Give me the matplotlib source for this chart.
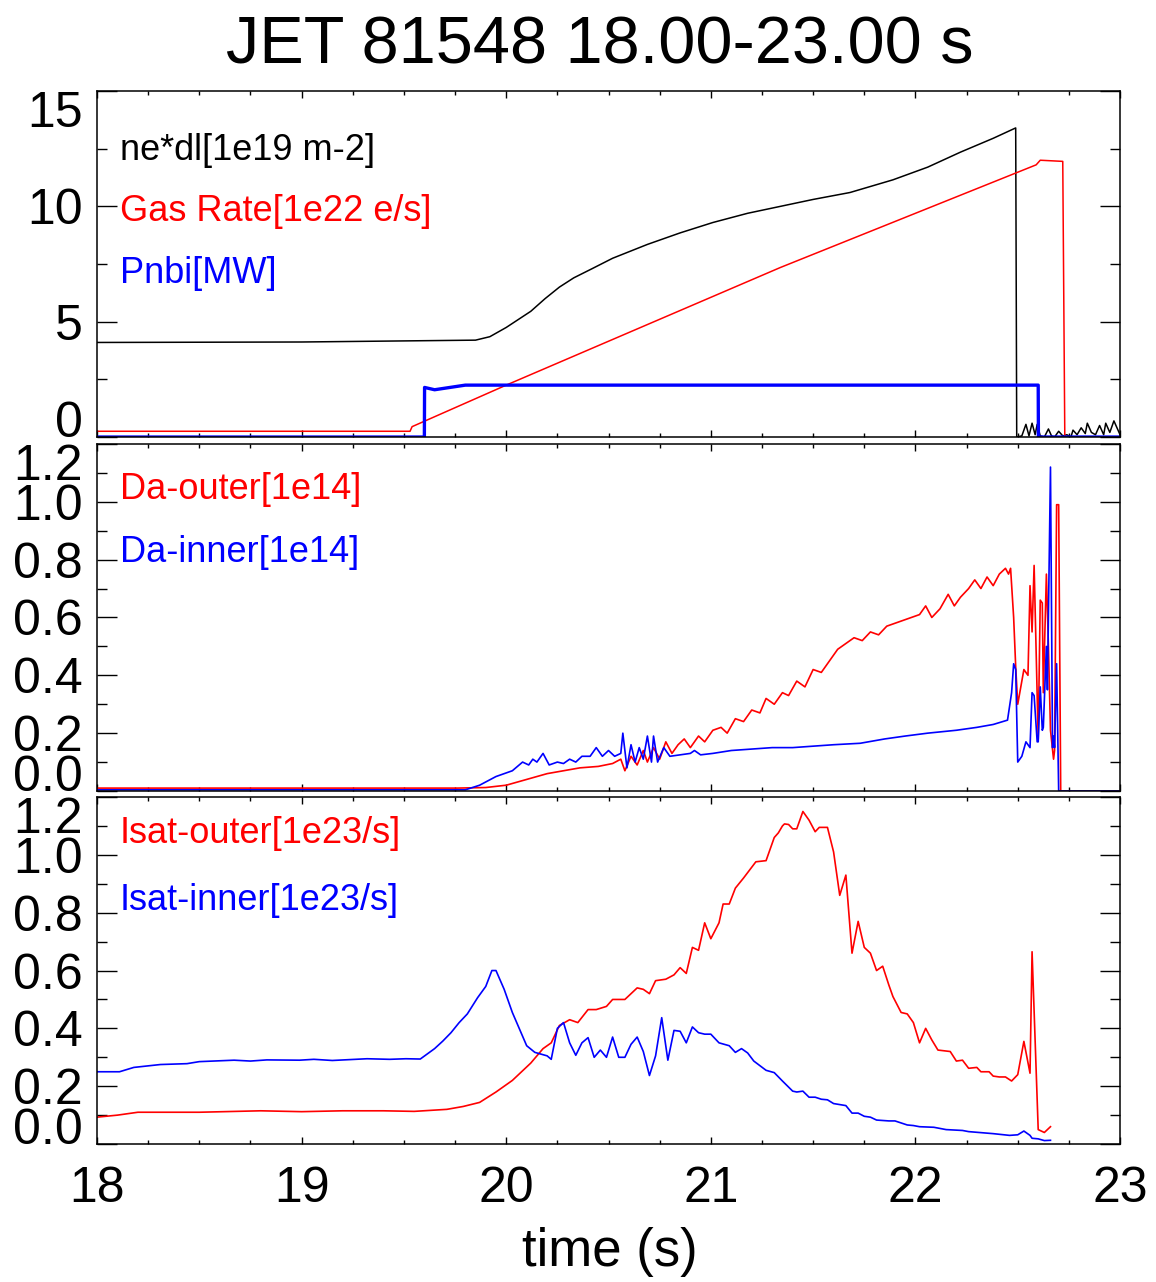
import matplotlib
matplotlib.use("Agg")
import matplotlib.pyplot as plt
from matplotlib.ticker import MultipleLocator
from matplotlib.transforms import ScaledTranslation

plt.rcParams['font.family'] = ['Liberation Sans', 'DejaVu Sans']

# ---- panel 1: density, gas, NBI ----
ne_t = [18.0, 19.0, 19.85, 19.92, 20.0, 20.06, 20.12, 20.19, 20.26, 20.33, 20.42, 20.52,
        20.69, 20.85, 21.01, 21.18, 21.34, 21.5, 21.68, 21.89, 22.06, 22.22, 22.38, 22.49,
        22.495, 22.52, 22.54, 22.555, 22.57, 22.585, 22.595, 22.61, 22.63, 22.65, 22.665,
        22.68, 22.70, 22.72, 22.74, 22.76, 22.77, 22.79, 22.81, 22.83, 22.84, 22.86,
        22.88, 22.90, 22.92, 22.93, 22.95, 22.97, 22.99, 23.0]
ne_v = [4.1, 4.12, 4.2, 4.35, 4.75, 5.1, 5.45, 6.0, 6.5, 6.9, 7.3, 7.75,
        8.35, 8.85, 9.3, 9.7, 10.0, 10.3, 10.6, 11.15, 11.7, 12.35, 12.95, 13.4,
        0.0, 0.05, 0.55, 0.05, 0.6, 0.1, 0.55, 0.05, 0.0, 0.35, 0.05,
        0.0, 0.25, 0.05, 0.1, 0.0, 0.3, 0.1, 0.4, 0.15, 0.6, 0.2,
        0.1, 0.5, 0.1, 0.6, 0.2, 0.7, 0.3, 0.1]

gas_t = [18.0, 19.53, 19.54, 20.0, 21.34, 22.59, 22.61, 22.72, 22.73, 23.0]
gas_v = [0.25, 0.25, 0.45, 2.25, 7.35, 11.8, 12.0, 11.95, 0.0, 0.0]

nbi_t = [18.0, 19.6, 19.601, 19.65, 19.8, 22.6, 22.601, 23.0]
nbi_v = [0.0, 0.0, 2.15, 2.05, 2.25, 2.25, 0.0, 0.0]

# ---- panel 2: D-alpha ----
dao_t = [18.0, 19.76, 19.9, 20.0, 20.1, 20.2, 20.36, 20.45, 20.52, 20.56, 20.58, 20.61,
         20.64, 20.67, 20.69, 20.72, 20.75, 20.78, 20.81, 20.84, 20.87, 20.9, 20.94,
         20.97, 21.01, 21.05, 21.08, 21.12, 21.16, 21.2, 21.24, 21.27, 21.31, 21.35,
         21.38, 21.42, 21.46, 21.5, 21.54, 21.58, 21.62, 21.66, 21.7, 21.74, 21.78,
         21.82, 21.86, 21.9, 21.94, 21.98, 22.02, 22.05, 22.08, 22.12, 22.16, 22.19,
         22.22, 22.26, 22.29, 22.32, 22.35, 22.38, 22.41, 22.44, 22.455, 22.465, 22.48,
         22.49, 22.50, 22.53, 22.55, 22.56, 22.57, 22.58, 22.60, 22.61, 22.62, 22.625,
         22.64, 22.65, 22.66, 22.675, 22.68, 22.69, 22.70, 22.71, 23.0]
dao_v = [0.01, 0.01, 0.012, 0.02, 0.04, 0.06, 0.08, 0.085, 0.095, 0.11, 0.07, 0.12,
         0.09, 0.14, 0.10, 0.15, 0.11, 0.17, 0.13, 0.16, 0.18, 0.15, 0.19,
         0.17, 0.21, 0.22, 0.20, 0.25, 0.24, 0.28, 0.27, 0.32, 0.30, 0.34,
         0.33, 0.38, 0.36, 0.42, 0.41, 0.45, 0.49, 0.51, 0.53, 0.52, 0.55,
         0.54, 0.57, 0.58, 0.59, 0.60, 0.61, 0.64, 0.60, 0.63, 0.68, 0.64,
         0.67, 0.70, 0.73, 0.70, 0.74, 0.71, 0.75, 0.77, 0.75, 0.77, 0.60,
         0.43, 0.30, 0.42, 0.40, 0.71, 0.55, 0.78, 0.18, 0.66, 0.65, 0.34,
         0.75, 0.50, 0.21, 0.11, 0.14, 0.99, 0.99, 0.0, 0.0]

dai_t = [18.0, 19.8, 19.87, 19.95, 20.03, 20.08, 20.11, 20.13, 20.15, 20.18, 20.21,
         20.25, 20.28, 20.31, 20.34, 20.37, 20.41, 20.44, 20.47, 20.5, 20.53, 20.56,
         20.57, 20.59, 20.61, 20.63, 20.65, 20.67, 20.69, 20.71, 20.72, 20.74, 20.77,
         20.8, 20.85, 20.9, 20.92, 20.95, 21.01, 21.1, 21.2, 21.3, 21.4, 21.5, 21.6,
         21.73, 21.85, 21.95, 22.06, 22.2, 22.3, 22.38, 22.45, 22.47, 22.48, 22.49,
         22.50, 22.52, 22.54, 22.55, 22.56, 22.57, 22.58, 22.595, 22.6, 22.61, 22.62,
         22.625, 22.64, 22.645, 22.66, 22.67, 22.675, 22.68, 22.69, 22.70, 23.0]
dai_v = [0.004, 0.004, 0.02, 0.05, 0.07, 0.10, 0.09, 0.11, 0.10, 0.13, 0.09,
         0.10, 0.095, 0.11, 0.10, 0.12, 0.12, 0.15, 0.12, 0.14, 0.12, 0.13,
         0.20, 0.08, 0.16, 0.10, 0.15, 0.11, 0.19, 0.10, 0.19, 0.10, 0.15,
         0.12, 0.125, 0.13, 0.14, 0.125, 0.13, 0.14, 0.145, 0.15, 0.15, 0.155, 0.16,
         0.165, 0.18, 0.19, 0.20, 0.21, 0.22, 0.23, 0.245, 0.34, 0.44, 0.42,
         0.10, 0.12, 0.17, 0.16, 0.15, 0.34, 0.33, 0.17, 0.17, 0.36, 0.21,
         0.22, 0.50, 0.35, 1.12, 0.15, 0.19, 0.15, 0.44, 0.0, 0.0]

# ---- panel 3: Isat ----
iso_t = [18.0, 18.1, 18.2, 18.5, 18.8, 19.0, 19.2, 19.4, 19.55, 19.71, 19.79, 19.87,
         19.95, 20.03, 20.12, 20.18, 20.22, 20.26, 20.31, 20.35, 20.40, 20.44, 20.49,
         20.52, 20.58, 20.64, 20.67, 20.70, 20.73, 20.78, 20.82, 20.85, 20.88, 20.91,
         20.94, 20.97, 21.0, 21.04, 21.06, 21.09, 21.12, 21.16, 21.22, 21.27, 21.31,
         21.33, 21.35, 21.36, 21.38, 21.40, 21.42, 21.45, 21.48, 21.51, 21.53, 21.57,
         21.60, 21.63, 21.66, 21.69, 21.72, 21.75, 21.78, 21.81, 21.84, 21.87, 21.89,
         21.93, 21.96, 21.99, 22.02, 22.05, 22.08, 22.11, 22.17, 22.20, 22.23, 22.26,
         22.30, 22.32, 22.36, 22.38, 22.41, 22.44, 22.47, 22.50, 22.53, 22.56, 22.57,
         22.60, 22.63, 22.66]
iso_v = [0.093, 0.10, 0.11, 0.11, 0.115, 0.112, 0.115, 0.115, 0.113, 0.12, 0.13, 0.144,
         0.18, 0.22, 0.28, 0.33, 0.35, 0.41, 0.43, 0.42, 0.465, 0.465, 0.476,
         0.50, 0.50, 0.54, 0.535, 0.52, 0.565, 0.57, 0.585, 0.61, 0.59, 0.68,
         0.67, 0.765, 0.71, 0.765, 0.83, 0.83, 0.885, 0.92, 0.976, 0.98, 1.06,
         1.076, 1.10, 1.107, 1.105, 1.09, 1.09, 1.15, 1.12, 1.08, 1.095, 1.095,
         1.01, 0.86, 0.93, 0.66, 0.77, 0.68, 0.66, 0.60, 0.615, 0.55, 0.51,
         0.455, 0.45, 0.42, 0.35, 0.40, 0.36, 0.325, 0.32, 0.287, 0.29, 0.262,
         0.265, 0.25, 0.25, 0.235, 0.232, 0.232, 0.218, 0.24, 0.355, 0.245, 0.665,
         0.05, 0.04, 0.06]

isi_t = [18.0, 18.11, 18.18, 18.31, 18.44, 18.5, 18.67, 18.75, 18.83, 18.99, 19.06,
         19.15, 19.32, 19.43, 19.51, 19.58, 19.65, 19.69, 19.73, 19.77, 19.81, 19.86,
         19.9, 19.93, 19.95, 19.99, 20.03, 20.10, 20.14, 20.2, 20.22, 20.25, 20.28,
         20.31, 20.34, 20.37, 20.40, 20.43, 20.46, 20.49, 20.52, 20.55, 20.58, 20.61,
         20.64, 20.67, 20.70, 20.73, 20.76, 20.79, 20.82, 20.85, 20.88, 20.91, 20.94,
         20.97, 21.0, 21.04, 21.09, 21.12, 21.15, 21.18, 21.21, 21.27, 21.31, 21.35,
         21.40, 21.42, 21.45, 21.48, 21.51, 21.54, 21.57, 21.60, 21.66, 21.69, 21.72,
         21.75, 21.78, 21.81, 21.87, 21.90, 21.96, 21.99, 22.02, 22.09, 22.15, 22.23,
         22.26, 22.38, 22.46, 22.50, 22.53, 22.56, 22.57, 22.60, 22.63, 22.66]
isi_v = [0.25, 0.25, 0.265, 0.275, 0.278, 0.285, 0.29, 0.287, 0.291, 0.29, 0.293,
         0.289, 0.295, 0.293, 0.295, 0.294, 0.33, 0.356, 0.385, 0.42, 0.45, 0.506,
         0.545, 0.6, 0.6, 0.535, 0.455, 0.34, 0.317, 0.305, 0.293, 0.40, 0.42,
         0.35, 0.307, 0.35, 0.368, 0.30, 0.325, 0.30, 0.37, 0.30, 0.30, 0.345,
         0.37, 0.32, 0.237, 0.305, 0.437, 0.29, 0.393, 0.39, 0.35, 0.405, 0.385,
         0.38, 0.38, 0.35, 0.34, 0.317, 0.33, 0.315, 0.287, 0.255, 0.247, 0.218,
         0.183, 0.18, 0.183, 0.162, 0.162, 0.155, 0.153, 0.14, 0.133, 0.107, 0.107,
         0.096, 0.093, 0.083, 0.08, 0.08, 0.066, 0.064, 0.06, 0.058, 0.05, 0.047,
         0.043, 0.036, 0.03, 0.032, 0.045, 0.03, 0.02, 0.018, 0.012, 0.013]

title = "JET 81548 18.00-23.00 s"

fig = plt.figure(figsize=(11.56, 12.82), dpi=100)
L, R = 0.0839, 0.9689
ax1 = fig.add_axes([L, 0.6591, R - L, 0.929 - 0.6591])
ax2 = fig.add_axes([L, 0.383, R - L, 0.6537 - 0.383])
ax3 = fig.add_axes([L, 0.1076, R - L, 0.3783 - 0.1076])

ax1.plot(ne_t, ne_v, color='black', lw=1.1)
ax1.plot(gas_t, gas_v, color='#ff0000', lw=1.1)
ax1.plot(nbi_t, nbi_v, color='#0000ff', lw=2.4)
ax1.set_ylim(0, 15)
ax1.set_yticks([0, 5, 10, 15])
ax1.yaxis.set_minor_locator(MultipleLocator(2.5))

ax2.plot(dao_t, dao_v, color='#ff0000', lw=1.2)
ax2.plot(dai_t, dai_v, color='#0000ff', lw=1.2)
ax3.plot(iso_t, iso_v, color='#ff0000', lw=1.2)
ax3.plot(isi_t, isi_v, color='#0000ff', lw=1.2)
for ax in (ax2, ax3):
    ax.set_ylim(0, 1.2)
    ax.set_yticks([0.0, 0.2, 0.4, 0.6, 0.8, 1.0, 1.2])
    ax.set_yticklabels(['0.0', '0.2', '0.4', '0.6', '0.8', '1.0', '1.2'])
    ax.yaxis.set_minor_locator(MultipleLocator(0.1))

# digit height of the 36 pt tick labels, in inches
cap = 36 * 0.716 / 72

for ax in (ax1, ax2, ax3):
    ax.set_xlim(18, 23)
    ax.set_xticks([18, 19, 20, 21, 22, 23])
    ax.xaxis.set_minor_locator(MultipleLocator(0.25))
    ax.tick_params(axis='y', which='major', direction='in', length=14.4, width=1,
                   left=True, right=True, labelsize=36, pad=10)
    ax.tick_params(axis='y', which='minor', direction='in', length=7.2, width=1,
                   left=True, right=True)
    ax.tick_params(axis='x', which='major', direction='in', length=5, width=1,
                   top=True, bottom=True, labelsize=36, pad=16)
    ax.tick_params(axis='x', which='minor', direction='in', length=2.8, width=1,
                   top=True, bottom=True)
    for s in ax.spines.values():
        s.set_linewidth(1.1)
    # end labels pulled inside the axis range
    ticks = ax.yaxis.get_major_ticks()
    lo = ticks[0].label1
    lo.set_verticalalignment('baseline')
    hi = ticks[-1].label1
    hi.set_verticalalignment('baseline')
    hi.set_transform(hi.get_transform() + ScaledTranslation(0, -cap, fig.dpi_scale_trans))

ax1.tick_params(axis='x', labelbottom=False)
ax2.tick_params(axis='x', labelbottom=False)

tx = 0.0225
ax1.text(tx, 0.829, "ne*dl[1e19 m-2]", color='black', fontsize=26, transform=ax1.transAxes, va='center')
ax1.text(tx, 0.653, "Gas Rate[1e22 e/s]", color='#ff0000', fontsize=26, transform=ax1.transAxes, va='center')
ax1.text(tx, 0.474, "Pnbi[MW]", color='#0000ff', fontsize=26, transform=ax1.transAxes, va='center')
ax2.text(tx, 0.870, "Da-outer[1e14]", color='#ff0000', fontsize=26, transform=ax2.transAxes, va='center')
ax2.text(tx, 0.686, "Da-inner[1e14]", color='#0000ff', fontsize=26, transform=ax2.transAxes, va='center')
ax3.text(tx, 0.896, "Isat-outer[1e23/s]", color='#ff0000', fontsize=26, transform=ax3.transAxes, va='center')
ax3.text(tx, 0.703, "Isat-inner[1e23/s]", color='#0000ff', fontsize=26, transform=ax3.transAxes, va='center')

fig.text(600 / 1156, 1 - 47 / 1282, title, fontsize=48, ha='center', va='center')
fig.text(610 / 1156, 1 - 1252 / 1282, "time (s)", fontsize=38, ha='center', va='center')

fig.savefig("out.png", dpi=100)
